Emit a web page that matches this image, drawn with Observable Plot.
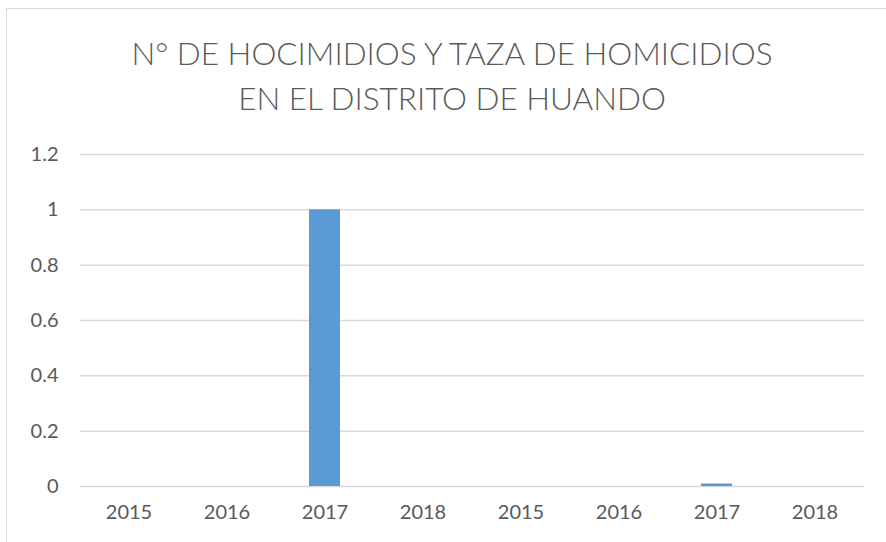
<!DOCTYPE html>
<html>
<head>
<meta charset="utf-8">
<script src="https://cdn.jsdelivr.net/npm/d3@7"></script>
<script src="https://cdn.jsdelivr.net/npm/@observablehq/plot@0.6"></script>
<style>
  body { margin: 0; background: #fff; }
  #wrap { position: relative; width: 886px; height: 542px; overflow: hidden; background: #fff; font-family: Lato, "Open Sans", sans-serif; }
  #frame { position: absolute; left: 6px; top: 8px; width: 900px; height: 600px; border: 1px solid #d9d9d9; box-sizing: border-box; }
  #title { position: absolute; left: 0; top: 31px; width: 904px; text-align: center; font-size: 31.5px; font-weight: 300; line-height: 45px; color: #595959; }
  #chart { position: absolute; left: 0; top: 130px; }
</style>
</head>
<body>
<div id="wrap">
  <div id="frame"></div>
  <div id="title">N° DE HOCIMIDIOS Y TAZA DE HOMICIDIOS<br>EN EL DISTRITO DE HUANDO</div>
  <div id="chart"></div>
</div>
<script>
const years = ["2015", "2016", "2017", "2018", "2015", "2016", "2017", "2018"];
const values = [0, 0, 1, 0, 0, 0, 0.009, 0];
const yTicks = [0, 0.2, 0.4, 0.6, 0.8, 1, 1.2];

const data = years.map((y, i) => ({key: i, label: y, value: values[i]}));

const chart = Plot.plot({
  width: 886,
  height: 412,
  marginTop: 24,
  marginBottom: 56,
  marginLeft: 80,
  marginRight: 22,
  style: {fontFamily: "Lato, 'Open Sans', sans-serif", fontSize: "20px", color: "#595959", background: "transparent"},
  x: {domain: data.map(d => d.key), paddingInner: 0.68, paddingOuter: 0.34, label: null, tickSize: 0, tickPadding: 18, tickFormat: i => years[i]},
  y: {domain: [0, 1.2], ticks: yTicks, label: null, tickSize: 0, tickPadding: 22, tickFormat: d => String(d)},
  marks: [
    Plot.gridY(yTicks, {stroke: "#d9d9d9", strokeOpacity: 1, strokeWidth: 1.5}),
    Plot.barY(data, {x: "key", y: "value", fill: "#5b9bd5"})
  ]
});
document.getElementById("chart").appendChild(chart);
</script>
</body>
</html>
